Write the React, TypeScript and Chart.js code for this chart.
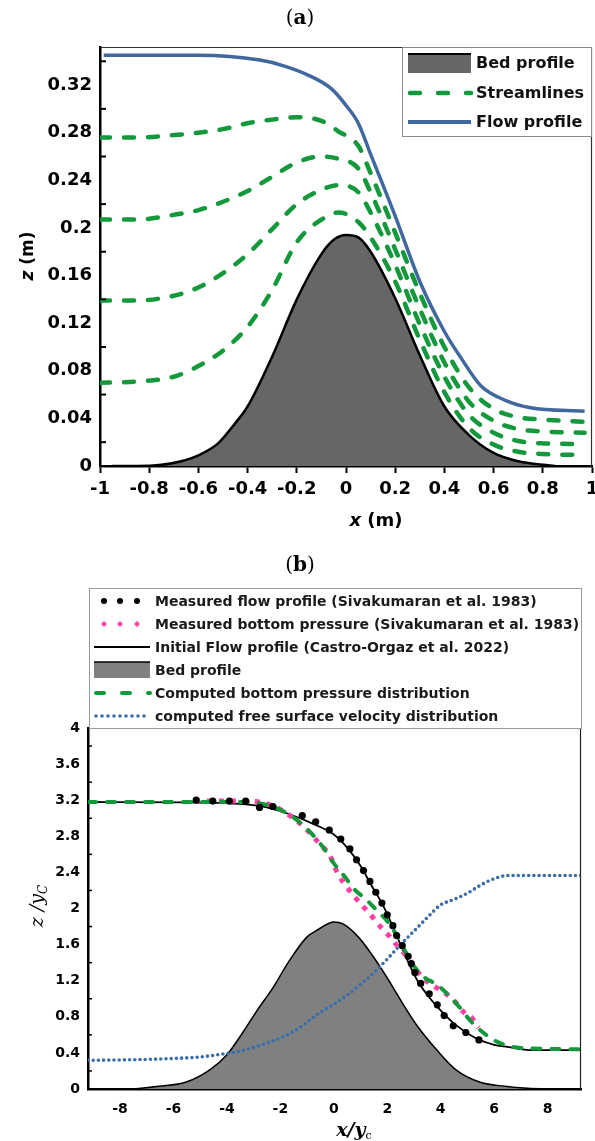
import React, { useEffect, useRef } from "react";
import { Chart, registerables } from "chart.js";
Chart.register(...registerables);

// ---------------- Panel (a) data ----------------
const bedAX = [-0.95, -0.85, -0.75, -0.67, -0.6, -0.52, -0.45, -0.4, -0.3, -0.2, -0.1, -0.05, 0, 0.05, 0.1, 0.2, 0.3, 0.4, 0.5, 0.6, 0.7, 0.85];
const bedAY = [0, 0, 0.001, 0.004, 0.009, 0.019, 0.036, 0.05, 0.092, 0.14, 0.178, 0.19, 0.194, 0.192, 0.18, 0.141, 0.093, 0.05, 0.026, 0.011, 0.004, 0];

const flowAX = [-0.985, -0.6, -0.35, -0.25, -0.15, -0.06, 0, 0.05, 0.1, 0.2, 0.3, 0.4, 0.47, 0.55, 0.65, 0.75, 0.97];
const flowAY = [0.345, 0.345, 0.341, 0.336, 0.328, 0.317, 0.303, 0.288, 0.262, 0.21, 0.155, 0.113, 0.09, 0.067, 0.055, 0.049, 0.046];

const streamX = [-1, -0.85, -0.7, -0.6, -0.5, -0.4, -0.3, -0.2, -0.1, -0.03, 0.05, 0.1, 0.2, 0.3, 0.4, 0.5, 0.6, 0.7, 0.8, 0.97];
const stream1 = [0.276, 0.276, 0.278, 0.28, 0.283, 0.288, 0.291, 0.293, 0.29, 0.281, 0.269, 0.246, 0.196, 0.145, 0.1, 0.066, 0.048, 0.041, 0.039, 0.037];
const stream2 = [0.207, 0.207, 0.211, 0.215, 0.222, 0.231, 0.243, 0.255, 0.26, 0.258, 0.25, 0.23, 0.182, 0.132, 0.087, 0.054, 0.038, 0.031, 0.029, 0.028];
const stream3 = [0.139, 0.139, 0.143, 0.15, 0.162, 0.178, 0.199, 0.22, 0.232, 0.236, 0.23, 0.213, 0.169, 0.119, 0.075, 0.043, 0.028, 0.021, 0.019, 0.0185];
const stream4 = [0.07, 0.071, 0.075, 0.084, 0.097, 0.117, 0.148, 0.188, 0.207, 0.213, 0.205, 0.192, 0.155, 0.106, 0.062, 0.032, 0.018, 0.012, 0.01, 0.0093];

const xTicksA = [-1, -0.8, -0.6, -0.4, -0.2, 0, 0.2, 0.4, 0.6, 0.8, 1];
const yTicksA = [0, 0.04, 0.08, 0.12, 0.16, 0.2, 0.24, 0.28, 0.32];
const yMinorA = [0.02, 0.06, 0.1, 0.14, 0.18, 0.22, 0.26, 0.3, 0.34];
const legendA = ["Bed profile", "Streamlines", "Flow profile"];

// ---------------- Panel (b) data ----------------
const bedBX = [-8, -7.4, -6.55, -5.55, -4.63, -4.0, -3.42, -2.85, -2.28, -1.71, -1.02, -0.57, 0, 0.36, 0.93, 1.42, 2.0, 2.56, 3.13, 3.84, 4.56, 5.48, 6.4, 7.26, 8.0];
const bedBY = [0, 0.004, 0.03, 0.074, 0.215, 0.38, 0.62, 0.88, 1.12, 1.4, 1.68, 1.77, 1.85, 1.826, 1.68, 1.49, 1.23, 0.955, 0.696, 0.437, 0.215, 0.074, 0.03, 0.007, 0];

const initX = [-9.2, -5.4, -2.85, -1.71, -0.71, 0, 0.57, 1.0, 1.42, 1.85, 2.28, 2.7, 3.13, 3.56, 4.13, 4.56, 5.3, 6.0, 6.5, 7.4, 9.25];
const initY = [3.18, 3.175, 3.14, 3.05, 2.93, 2.82, 2.65, 2.47, 2.25, 2.03, 1.75, 1.46, 1.2, 1.02, 0.83, 0.71, 0.565, 0.49, 0.467, 0.43, 0.43];

const measFlowX = [-5.15, -4.53, -3.91, -3.3, -2.78, -2.28, -1.18, -0.68, -0.17, 0.26, 0.6, 0.85, 1.11, 1.35, 1.57, 1.8, 2.0, 2.21, 2.35, 2.56, 2.78, 2.9, 3.03, 3.25, 3.57, 3.87, 4.13, 4.47, 4.94, 5.43];
const measFlowY = [3.2, 3.19, 3.19, 3.19, 3.12, 3.13, 3.03, 2.96, 2.87, 2.77, 2.66, 2.54, 2.42, 2.3, 2.18, 2.06, 1.93, 1.81, 1.7, 1.59, 1.47, 1.39, 1.29, 1.17, 1.055, 0.933, 0.814, 0.7, 0.626, 0.544];

const measPresX = [-5.2, -3.3, -2.3, -1.7, -1.14, -0.57, -0.14, 0.14, 0.43, 0.78, 1.07, 1.35, 1.71, 2.06, 2.42, 2.78, 3.0, 3.3, 3.72, 4.16, 4.57, 4.9, 5.16, 5.42];
const measPresY = [3.19, 3.19, 3.14, 3.04, 2.91, 2.73, 2.58, 2.39, 2.26, 2.13, 2.03, 1.94, 1.81, 1.7, 1.57, 1.455, 1.36, 1.24, 1.144, 1.067, 0.955, 0.84, 0.79, 0.68];

const compPresX = [-9.2, -3.3, -2.3, -1.57, -1.0, -0.43, 0, 0.36, 0.78, 1.21, 1.64, 2.0, 2.3, 2.63, 3.0, 3.42, 3.84, 4.26, 4.72, 5.1, 5.45, 6.0, 6.5, 7.0, 8.0, 9.2];
const compPresY = [3.18, 3.18, 3.13, 3.02, 2.88, 2.69, 2.5, 2.37, 2.21, 2.1, 1.97, 1.86, 1.73, 1.55, 1.36, 1.23, 1.16, 1.05, 0.9, 0.76, 0.66, 0.54, 0.48, 0.455, 0.445, 0.44];

const velX = [-9.2, -8, -7, -6, -5, -4, -3.5, -3, -2.5, -2, -1.5, -1, -0.5, 0, 0.5, 1, 1.5, 2, 2.5, 3, 3.5, 4, 4.5, 5, 5.5, 6, 6.5, 7, 8, 9.25];
const velY = [0.318, 0.322, 0.328, 0.338, 0.355, 0.395, 0.42, 0.46, 0.51, 0.566, 0.64, 0.74, 0.85, 0.94, 1.04, 1.16, 1.29, 1.44, 1.6, 1.75, 1.9, 2.04, 2.1, 2.17, 2.26, 2.33, 2.365, 2.365, 2.365, 2.365];

const xTicksB = [-8, -6, -4, -2, 0, 2, 4, 6, 8];
const yTicksB = [0, 0.4, 0.8, 1.2, 1.6, 2, 2.4, 2.8, 3.2, 3.6, 4];
const yMinorB = [0.2, 0.6, 1.0, 1.4, 1.8, 2.2, 2.6, 3.0, 3.4, 3.8];
const legendB = [
  "Measured flow profile (Sivakumaran et al. 1983)",
  "Measured bottom pressure (Sivakumaran et al. 1983)",
  "Initial Flow profile (Castro-Orgaz et al. 2022)",
  "Bed profile",
  "Computed bottom pressure distribution",
  "computed free surface velocity distribution",
];

// ---------------- styles ----------------
const GREEN = "#14983C";
const BLUE = "#40689E";
const BLUE_DOT = "#3C6EAA";
const PINK = "#FF3FA4";
const SANS = "DejaVu Sans";
const SERIF = "DejaVu Serif";

const pts = (xs: number[], ys: number[]) => xs.map((x, i) => ({ x, y: ys[i] }));

type Part = { t: string; f: string; dy?: number };
function drawParts(ctx: CanvasRenderingContext2D, parts: Part[], cx: number, baseY: number) {
  let total = 0;
  parts.forEach((p) => { ctx.font = p.f; total += ctx.measureText(p.t).width; });
  let x = cx - total / 2;
  ctx.textAlign = "left";
  ctx.textBaseline = "alphabetic";
  parts.forEach((p) => {
    ctx.font = p.f;
    ctx.fillText(p.t, x, baseY + (p.dy || 0));
    x += ctx.measureText(p.t).width;
  });
}

function line(ctx: CanvasRenderingContext2D, x1: number, y1: number, x2: number, y2: number) {
  ctx.beginPath(); ctx.moveTo(x1, y1); ctx.lineTo(x2, y2); ctx.stroke();
}

const panelAPlugin = {
  id: "panelA",
  afterDraw(chart: any) {
    const { ctx, chartArea: ca, scales } = chart;
    const ys = scales.y;
    ctx.save();
    // top and right frame
    ctx.strokeStyle = "#333"; ctx.lineWidth = 1.2;
    line(ctx, ca.left, ca.top + 0.5, ca.right, ca.top + 0.5);
    line(ctx, ca.right - 0.5, ca.top, ca.right - 0.5, ca.bottom);
    // inner minor ticks
    ctx.strokeStyle = "#000"; ctx.lineWidth = 2;
    yMinorA.forEach((v) => { const py = ys.getPixelForValue(v); line(ctx, ca.left, py, ca.left + 6, py); });
    // legend
    const lx = 402, ly = 47, lw = 190, lh = 90;
    ctx.fillStyle = "#fff"; ctx.fillRect(lx, ly, lw, lh);
    ctx.strokeStyle = "#8a8a8a"; ctx.lineWidth = 1; ctx.strokeRect(lx + 0.5, ly + 0.5, lw - 1, lh - 1);
    const sx1 = 408, sx2 = 471, tx = 476;
    const rows = [63, 93, 122];
    ctx.fillStyle = "#666"; ctx.fillRect(sx1, 54, sx2 - sx1, 19);
    ctx.strokeStyle = "#000"; ctx.lineWidth = 2; line(ctx, sx1, 54, sx2, 54);
    ctx.strokeStyle = GREEN; ctx.lineWidth = 4.5; ctx.lineCap = "round"; ctx.setLineDash([10, 18]);
    line(ctx, sx1 + 2, rows[1], sx2, rows[1]);
    ctx.setLineDash([]); ctx.lineCap = "butt";
    ctx.strokeStyle = BLUE; ctx.lineWidth = 4; line(ctx, sx1, rows[2], sx2, rows[2]);
    ctx.fillStyle = "#111"; ctx.font = `bold 16px "${SANS}"`; ctx.textAlign = "left"; ctx.textBaseline = "middle";
    legendA.forEach((t, i) => ctx.fillText(t, tx, rows[i] + 1));
    // panel title
    ctx.fillStyle = "#000";
    drawParts(ctx, [
      { t: "(", f: `20px "${SERIF}"` },
      { t: "a", f: `bold 20px "${SERIF}"` },
      { t: ")", f: `20px "${SERIF}"` },
    ], 300, 24);
    // x title
    drawParts(ctx, [
      { t: "x", f: `italic bold 18px "${SANS}"` },
      { t: " (m)", f: `bold 18px "${SANS}"` },
    ], 376, 526);
    // y title
    ctx.translate(27, 256); ctx.rotate(-Math.PI / 2);
    drawParts(ctx, [
      { t: "z", f: `italic bold 17px "${SANS}"` },
      { t: " (m)", f: `bold 17px "${SANS}"` },
    ], 0, 6);
    ctx.restore();
  },
};

const panelBPlugin = {
  id: "panelB",
  afterDraw(chart: any) {
    const { ctx, chartArea: ca, scales } = chart;
    const ys = scales.y;
    ctx.save();
    ctx.strokeStyle = "#222"; ctx.lineWidth = 1.2;
    line(ctx, ca.right - 0.5, ca.top, ca.right - 0.5, ca.bottom);
    ctx.strokeStyle = "#000"; ctx.lineWidth = 1.5;
    yMinorB.forEach((v) => { const py = ys.getPixelForValue(v); line(ctx, ca.left, py, ca.left + 4, py); });
    // legend box
    const lx = 89, ly = 48, lw = 493, lh = ca.top - 48 + 1;
    ctx.fillStyle = "#fff"; ctx.fillRect(lx, ly, lw, lh);
    ctx.strokeStyle = "#9a9a9a"; ctx.lineWidth = 1; ctx.strokeRect(lx + 0.5, ly + 0.5, lw - 1, lh - 1);
    const rows = [61, 84, 107, 130, 153, 176];
    const sx1 = 94, sx2 = 150, tx = 155;
    // row 1 black dots
    ctx.fillStyle = "#000";
    [104, 120, 137].forEach((x) => { ctx.beginPath(); ctx.arc(x, rows[0], 3, 0, Math.PI * 2); ctx.fill(); });
    // row 2 pink diamonds
    ctx.fillStyle = PINK;
    [104, 120, 137].forEach((x) => {
      ctx.beginPath(); ctx.moveTo(x, rows[1] - 3); ctx.lineTo(x + 3, rows[1]); ctx.lineTo(x, rows[1] + 3); ctx.lineTo(x - 3, rows[1]); ctx.closePath(); ctx.fill();
    });
    // row 3 black line
    ctx.strokeStyle = "#000"; ctx.lineWidth = 1.8; line(ctx, sx1, rows[2], sx2, rows[2]);
    // row 4 bed
    ctx.fillStyle = "#808080"; ctx.fillRect(sx1, 122, sx2 - sx1, 16);
    ctx.strokeStyle = "#000"; ctx.lineWidth = 1.5; line(ctx, sx1, 122, sx2, 122);
    // row 5 green dashes
    ctx.strokeStyle = GREEN; ctx.lineWidth = 4; ctx.lineCap = "round"; ctx.setLineDash([8, 18]);
    line(ctx, sx1 + 2, rows[4], sx2, rows[4]);
    // row 6 blue dots
    ctx.strokeStyle = BLUE_DOT; ctx.lineWidth = 3.6; ctx.setLineDash([0, 6]);
    line(ctx, sx1 + 2, rows[5], sx2, rows[5]);
    ctx.setLineDash([]); ctx.lineCap = "butt";
    ctx.fillStyle = "#1a1a1a"; ctx.font = `bold 14px "${SANS}"`; ctx.textAlign = "left"; ctx.textBaseline = "middle";
    legendB.forEach((t, i) => ctx.fillText(t, tx, rows[i] + 1));
    // panel title
    ctx.fillStyle = "#000";
    drawParts(ctx, [
      { t: "(", f: `20px "${SERIF}"` },
      { t: "b", f: `bold 20px "${SERIF}"` },
      { t: ")", f: `20px "${SERIF}"` },
    ], 300, 31);
    // x title
    drawParts(ctx, [
      { t: "x/y", f: `italic bold 19px "${SERIF}"` },
      { t: "c", f: `11px "${SERIF}"`, dy: 3 },
    ], 354, 596);
    // y title
    ctx.translate(37, 366); ctx.rotate(-Math.PI / 2);
    drawParts(ctx, [
      { t: "z /y", f: `italic 19px "${SERIF}"` },
      { t: "C", f: `italic 12px "${SERIF}"`, dy: 4 },
    ], 0, 6);
    ctx.restore();
  },
};

function makeConfigA(): any {
  const tickFont = { family: SANS, size: 18, weight: "bold" as const };
  const dash = (data: number[]) => ({
    data: pts(streamX, data), borderColor: GREEN, borderWidth: 4.5, borderDash: [10, 14], borderCapStyle: "round",
    pointRadius: 0, fill: false, cubicInterpolationMode: "monotone",
  });
  return {
    type: "line",
    data: {
      datasets: [
        { label: "Flow profile", data: pts(flowAX, flowAY), borderColor: BLUE, borderWidth: 3.5, pointRadius: 0, fill: false, cubicInterpolationMode: "monotone" },
        { label: "Streamlines", ...dash(stream1) },
        { label: "s2", ...dash(stream2) },
        { label: "s3", ...dash(stream3) },
        { label: "s4", ...dash(stream4) },
        { label: "Bed profile", data: pts(bedAX, bedAY), borderColor: "#000", borderWidth: 2.5, backgroundColor: "#666666", pointRadius: 0, fill: "origin", cubicInterpolationMode: "monotone" },
      ],
    },
    options: {
      animation: false,
      responsive: false,
      maintainAspectRatio: false,
      events: [],
      layout: { padding: { left: 0, right: 3, top: 47, bottom: 0 } },
      plugins: { legend: { display: false }, title: { display: false }, tooltip: { enabled: false } },
      scales: {
        x: {
          type: "linear", min: -1, max: 1,
          afterBuildTicks: (ax: any) => { ax.ticks = xTicksA.map((v) => ({ value: v })); },
          afterFit: (s: any) => { s.height = 74; s.paddingLeft = 0; s.paddingRight = 0; },
          grid: { display: true, drawOnChartArea: false, drawTicks: true, tickLength: 7, tickWidth: 2, tickColor: "#000", color: "#000" },
          border: { display: true, color: "#000", width: 2.5 },
          ticks: { font: tickFont, color: "#000", padding: 6, maxRotation: 0, autoSkip: false, callback: (v: number) => String(v) },
        },
        y: {
          type: "linear", min: 0, max: 0.352,
          afterBuildTicks: (ax: any) => { ax.ticks = yTicksA.map((v) => ({ value: v })); },
          afterFit: (s: any) => { s.width = 100; },
          grid: { display: false, drawTicks: false },
          border: { display: true, color: "#000", width: 2.5 },
          ticks: { font: tickFont, color: "#000", padding: 8, autoSkip: false, callback: (v: number) => String(v) },
        },
      },
    },
    plugins: [panelAPlugin],
  };
}

function makeConfigB(): any {
  const tickFont = { family: SANS, size: 14, weight: "bold" as const };
  return {
    type: "line",
    data: {
      datasets: [
        { label: legendB[0], data: pts(measFlowX, measFlowY), showLine: false, pointRadius: 3.6, pointBackgroundColor: "#000", pointBorderWidth: 0, borderColor: "#000" },
        { label: legendB[4], data: pts(compPresX, compPresY), borderColor: GREEN, borderWidth: 4, borderDash: [8, 11], borderCapStyle: "round", pointRadius: 0, fill: false, cubicInterpolationMode: "monotone" },
        { label: legendB[1], data: pts(measPresX, measPresY), borderColor: PINK, borderWidth: 5, borderDash: [5, 7], borderCapStyle: "butt", pointRadius: 0, fill: false, cubicInterpolationMode: "monotone" },
        { label: legendB[2], data: pts(initX, initY), borderColor: "#000", borderWidth: 1.8, pointRadius: 0, fill: false, cubicInterpolationMode: "monotone" },
        { label: legendB[5], data: pts(velX, velY), borderColor: BLUE_DOT, borderWidth: 3.6, borderDash: [0, 5.2], borderCapStyle: "round", pointRadius: 0, fill: false, cubicInterpolationMode: "monotone" },
        { label: legendB[3], data: pts(bedBX, bedBY), borderColor: "#000", borderWidth: 1.5, backgroundColor: "#808080", pointRadius: 0, fill: "origin", cubicInterpolationMode: "monotone" },
      ],
    },
    options: {
      animation: false,
      responsive: false,
      maintainAspectRatio: false,
      events: [],
      layout: { padding: { left: 0, right: 14, top: 188, bottom: 0 } },
      plugins: { legend: { display: false }, title: { display: false }, tooltip: { enabled: false } },
      scales: {
        x: {
          type: "linear", min: -9.2, max: 9.25,
          afterBuildTicks: (ax: any) => { ax.ticks = xTicksB.map((v) => ({ value: v })); },
          afterFit: (s: any) => { s.height = 52; s.paddingLeft = 0; s.paddingRight = 0; },
          grid: { display: false, drawTicks: false },
          border: { display: true, color: "#000", width: 2.5 },
          ticks: { font: tickFont, color: "#000", padding: 12, maxRotation: 0, autoSkip: false, callback: (v: number) => String(v) },
        },
        y: {
          type: "linear", min: 0, max: 4,
          afterBuildTicks: (ax: any) => { ax.ticks = yTicksB.map((v) => ({ value: v })); },
          afterFit: (s: any) => { s.width = 88; },
          grid: { display: false, drawTicks: false },
          border: { display: true, color: "#000", width: 2.5 },
          ticks: { font: tickFont, color: "#000", padding: 8, autoSkip: false, callback: (v: number) => String(v) },
        },
      },
    },
    plugins: [panelBPlugin],
  };
}

export default function App() {
  const aRef = useRef<HTMLCanvasElement>(null);
  const bRef = useRef<HTMLCanvasElement>(null);
  useEffect(() => {
    const ca = new Chart(aRef.current as HTMLCanvasElement, makeConfigA());
    const cb = new Chart(bRef.current as HTMLCanvasElement, makeConfigB());
    return () => { ca.destroy(); cb.destroy(); };
  }, []);
  return (
    <div style={{ position: "absolute", left: 0, top: 0, width: 595, height: 1141, background: "#fff" }}>
      <canvas ref={aRef} width={595} height={540} style={{ display: "block", width: 595, height: 540 }} />
      <canvas ref={bRef} width={595} height={601} style={{ display: "block", width: 595, height: 601 }} />
    </div>
  );
}
